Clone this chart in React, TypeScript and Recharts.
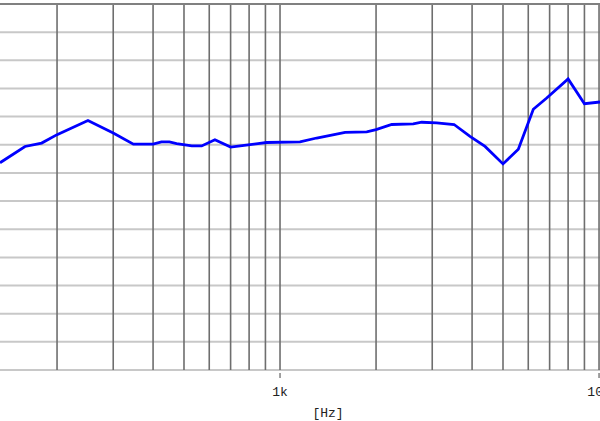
import { Line, LineChart, ReferenceLine, XAxis, YAxis } from "recharts";

// visible window of the log frequency axis (image is cropped on both sides)
const F_MIN = 132.5;
const F_MAX = 10070;

const FREQS = [
  132.5, 158.7, 179, 200, 250, 300, 347, 400, 425, 450, 474, 529, 568, 625,
  700, 750, 853, 908, 1155, 1303, 1600, 1870, 2000, 2240, 2616, 2781, 3097,
  3512, 3940, 4392, 5000, 5585, 6223, 6855, 8000, 9000, 10070,
];
const LEVELS = [
  76.8, 79.7, 80.3, 81.8, 84.3, 82.1, 80.1, 80.1, 80.5, 80.5, 80.2, 79.8,
  79.8, 80.9, 79.6, 79.8, 80.2, 80.4, 80.5, 81.2, 82.2, 82.3, 82.7, 83.6,
  83.7, 84.0, 83.9, 83.6, 81.5, 79.7, 76.6, 79.2, 86.3, 88.3, 91.7, 87.3,
  87.6,
];

const GRID_FREQS = [
  200, 300, 400, 500, 600, 700, 800, 900, 1000, 2000, 3000, 4000, 5000, 6000,
  7000, 8000, 9000, 10000,
];
const TICK_LABELS: Record<number, string> = { 1000: "1k", 10000: "10k" };
const DB_TICKS = [40, 45, 50, 55, 60, 65, 70, 75, 80, 85, 90, 95, 100];
const DB_TOP = 105;

const data = FREQS.map((f, i) => ({ f, db: LEVELS[i] }));

const FONT = "'Liberation Mono', 'DejaVu Sans Mono', monospace";

function FreqTick({ x, y, payload }: any) {
  const label = TICK_LABELS[payload.value];
  if (!label) return null;
  return (
    <g>
      <line x1={x} x2={x} y1={y + 3} y2={y + 8} stroke="#444" strokeWidth={1} />
      <text x={x} y={y + 26} textAnchor="middle" fontSize={13} fontFamily={FONT} fill="#222">
        {label}
      </text>
    </g>
  );
}

export default function App() {
  return (
    <div style={{ position: "absolute", left: 0, top: 0, width: 600, height: 421, background: "#fff" }}>
      <LineChart width={600} height={421} data={data} margin={{ top: 4, right: 0, bottom: 0, left: 0 }}>
        <XAxis
          type="number"
          dataKey="f"
          scale="log"
          domain={[F_MIN, F_MAX]}
          allowDataOverflow
          ticks={GRID_FREQS}
          interval={0}
          tick={FreqTick}
          tickLine={false}
          axisLine={false}
          tickSize={0}
          tickMargin={0}
          height={51}
          label={{
            value: "[Hz]",
            content: ({ viewBox }: any) => (
              <text
                x={viewBox.x + viewBox.width / 2 + 28}
                y={viewBox.y + 47}
                textAnchor="middle"
                fontSize={13}
                fontFamily={FONT}
                fill="#222"
              >
                [Hz]
              </text>
            ),
          }}
        />
        <YAxis type="number" domain={[40, DB_TOP]} width={0} hide />
        {DB_TICKS.map((v) => (
          <ReferenceLine key={"h" + v} y={v} stroke="#c8c8c8" strokeWidth={2} />
        ))}
        {GRID_FREQS.map((f) => (
          <ReferenceLine key={"v" + f} x={f} stroke="#6e6e6e" strokeWidth={1.6} />
        ))}
        <ReferenceLine y={DB_TOP} stroke="#808080" strokeWidth={2} />
        <Line
          type="linear"
          dataKey="db"
          stroke="#0000ff"
          strokeWidth={2.8}
          dot={false}
          isAnimationActive={false}
        />
      </LineChart>
    </div>
  );
}
